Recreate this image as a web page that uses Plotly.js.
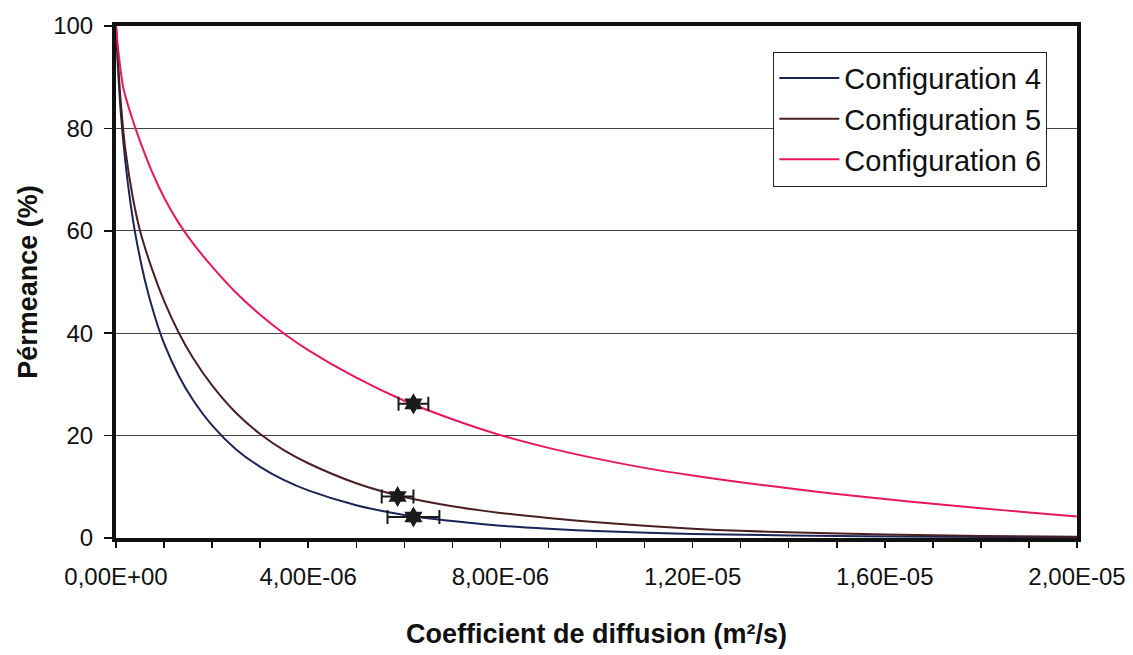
<!DOCTYPE html>
<html>
<head>
<meta charset="utf-8">
<script src="https://cdn.plot.ly/plotly-3.0.1.min.js"></script>
<style>
html,body{margin:0;padding:0;background:#fff;}
#chart{width:1133px;height:655px;}
</style>
</head>
<body>
<div id="chart"></div>
<script>
// x values in units of 1e-6 m²/s
const UNIT = 1e-6;

const x_config4 = [0, 0.04, 0.1, 0.2, 0.3, 0.4, 0.6, 0.8, 1.0, 1.3, 1.6, 2.0, 2.5, 3.0, 3.5, 4.0, 5.0, 6.0, 7.0, 8.0, 9.0, 10, 12, 14, 17, 20];
const y_config4 = [100, 92, 83, 73, 65.5, 59.5, 50.4, 43.5, 38.0, 31.8, 27.0, 22.0, 17.3, 13.9, 11.3, 9.3, 6.4, 4.5, 3.3, 2.4, 1.8, 1.35, 0.8, 0.5, 0.25, 0.12];

const x_config5 = [0, 0.05, 0.1, 0.2, 0.35, 0.5, 0.75, 1.0, 1.3, 1.6, 2.0, 2.5, 3.0, 3.5, 4.0, 5.0, 6.0, 7.0, 8.0, 9.0, 10, 11, 12, 13, 14, 16, 18, 20];
const y_config5 = [100, 92, 85, 75.5, 66.5, 60.0, 52.5, 46.3, 40.2, 35.2, 29.8, 24.4, 20.3, 17.1, 14.6, 10.7, 8.0, 6.2, 4.9, 3.9, 3.1, 2.4, 1.8, 1.4, 1.1, 0.7, 0.4, 0.25];

const x_config6 = [0, 0.05, 0.15, 0.3, 0.5, 0.75, 1.0, 1.3, 1.6, 2.0, 2.5, 3.0, 3.5, 4.0, 5.0, 6.0, 7.0, 8.0, 9.0, 10, 11, 12, 13, 14, 15, 16, 17, 18, 19, 20];
const y_config6 = [100, 95, 88, 83, 77.5, 71.5, 66.5, 61.6, 57.6, 53.0, 47.9, 43.6, 39.9, 36.7, 31.3, 26.8, 23.2, 20.1, 17.6, 15.5, 13.7, 12.2, 10.9, 9.7, 8.6, 7.6, 6.7, 5.8, 5.0, 4.2];

// measured points with horizontal error bars
const pt_x = [6.19, 5.86, 6.19];
const pt_y = [4.1, 8.1, 26.2];
const pt_err = [0.54, 0.33, 0.31];

const seriesNames = ['Configuration 4', 'Configuration 5', 'Configuration 6'];
const seriesColors = ['#1a2456', '#4a1f22', '#e8175d'];

const xTickVals = [0,1,2,3,4,5,6,7,8,9,10,11,12,13,14,15,16,17,18,19,20];
const xTickLabels = {0:'0,00E+00', 4:'4,00E-06', 8:'8,00E-06', 12:'1,20E-05', 16:'1,60E-05', 20:'2,00E-05'};

const sc = a => a.map(v => v * UNIT);
const FONT = 'Arial, Liberation Sans, sans-serif';

const lineTrace = (xs, ys, i) => ({
  x: sc(xs), y: ys, mode: 'lines', type: 'scatter', name: seriesNames[i],
  line: {color: seriesColors[i], width: 2, shape: 'spline', smoothing: 0.8},
  hoverinfo: 'skip'
});

const traces = [
  lineTrace(x_config4, y_config4, 0),
  lineTrace(x_config5, y_config5, 1),
  lineTrace(x_config6, y_config6, 2),
  {
    x: sc(pt_x), y: pt_y, mode: 'markers', type: 'scatter', showlegend: false,
    marker: {symbol: 'hexagram', size: 16, color: '#1a1a1a'},
    error_x: {type: 'data', array: sc(pt_err), visible: true, color: '#1a1a1a', thickness: 2, width: 7}
  }
];

const layout = {
  width: 1133, height: 655,
  margin: {l: 116, r: 56, t: 26, b: 117},
  paper_bgcolor: '#fff', plot_bgcolor: '#fff',
  font: {family: FONT, color: '#111', size: 24},
  xaxis: {
    range: [0, 20 * UNIT],
    tickmode: 'array',
    tickvals: sc(xTickVals),
    ticktext: xTickVals.map(v => xTickLabels[v] || ''),
    ticks: 'outside', ticklen: 6, tickwidth: 1.5, tickcolor: '#111',
    ticklabelstandoff: 8,
    showgrid: false, zeroline: false,
    showline: true, linewidth: 4, linecolor: '#111', mirror: true,
    tickfont: {size: 24, family: FONT},
    title: {text: 'Coefficient de diffusion (m²/s)', font: {size: 27, family: FONT, weight: 'bold'}, standoff: 36}
  },
  yaxis: {
    range: [0, 100],
    tickvals: [0, 20, 40, 60, 80, 100],
    ticks: 'outside', ticklen: 8, tickwidth: 1.5, tickcolor: '#111',
    ticklabelstandoff: 6,
    showgrid: true, gridcolor: '#444', gridwidth: 1,
    zeroline: false,
    showline: true, linewidth: 4, linecolor: '#111', mirror: true,
    tickfont: {size: 24, family: FONT},
    title: {text: 'Pérmeance (%)', font: {size: 27, family: FONT, weight: 'bold'}, standoff: 9}
  },
  legend: {
    x: 0.684, y: 0.95, xanchor: 'left', yanchor: 'top',
    bgcolor: '#fff', bordercolor: '#222', borderwidth: 1,
    font: {size: 29, family: FONT, color: '#111'},
    itemwidth: 60
  },
  showlegend: true
};

Plotly.newPlot('chart', traces, layout, {displayModeBar: false, staticPlot: true});
</script>
</body>
</html>
